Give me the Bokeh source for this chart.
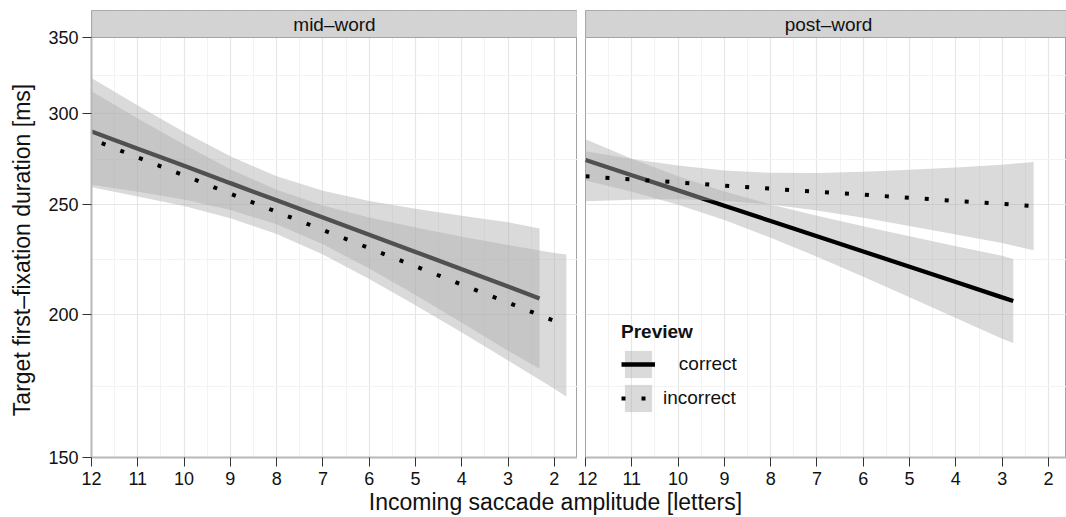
from bokeh.plotting import figure
from bokeh.layouts import column, row
from bokeh.models import Range1d, FixedTicker, NumeralTickFormatter, Label, Legend, LegendItem
from bokeh.embed import file_html
from bokeh.resources import INLINE

FONT = "Liberation Sans"

# ---------------- texts / ticks ----------------
panel_titles = ["mid–word", "post–word"]
legend_title = "Preview"
condition_labels = ["\u00a0\u00a0\u00a0correct", "incorrect"]
x_title = "Incoming saccade amplitude [letters]"
y_title = "Target first–fixation duration [ms]"
x_ticks = [2, 3, 4, 5, 6, 7, 8, 9, 10, 11, 12]
x_minor_ticks = [2.5, 3.5, 4.5, 5.5, 6.5, 7.5, 8.5, 9.5, 10.5, 11.5]
y_ticks = [150, 200, 250, 300, 350]
y_minor_ticks = [173.2, 223.6, 273.9, 324.0]

# ---------------- mid-word panel ----------------
mid_correct_x = [12, 11, 10, 9, 8, 7, 6, 5, 4, 3, 2.32]
mid_correct_fit = [289.6, 279.7, 270.2, 260.9, 252.0, 243.4, 235.1, 227.1, 219.3, 211.8, 206.7]
mid_correct_upper = [322.6, 305.2, 289.3, 275.4, 264.5, 256.9, 251.7, 247.8, 244.3, 241.1, 238.1]
mid_correct_lower = [260.0, 256.4, 252.4, 247.2, 240.1, 230.6, 219.6, 208.2, 196.9, 186.0, 179.4]

mid_incorrect_x = [12, 11, 10, 9, 8, 7, 6, 5, 4, 3, 2, 1.74]
mid_incorrect_fit = [285.1, 274.8, 265.0, 255.4, 246.2, 237.4, 228.8, 220.6, 212.6, 205.0, 197.6, 195.7]
mid_incorrect_upper = [314.1, 297.3, 282.0, 268.3, 257.4, 249.4, 243.4, 238.6, 234.2, 230.3, 226.6, 225.9]
mid_incorrect_lower = [258.8, 254.0, 249.1, 243.1, 235.5, 225.9, 215.0, 203.9, 193.0, 182.4, 172.3, 169.6]

# ---------------- post-word panel ----------------
post_correct_x = [12, 11, 10, 9, 8, 7, 6, 5, 4, 3, 2.76]
post_correct_fit = [273.4, 265.1, 257.1, 249.3, 241.7, 234.4, 227.3, 220.4, 213.7, 207.2, 205.7]
post_correct_upper = [285.0, 274.1, 264.6, 256.6, 249.9, 244.3, 239.2, 234.4, 229.7, 225.3, 223.9]
post_correct_lower = [262.3, 256.4, 249.8, 242.2, 233.7, 224.9, 216.0, 207.3, 198.8, 190.6, 189.0]

post_incorrect_x = [12, 11, 10, 9, 8, 7, 6, 5, 4, 3, 2.32]
post_incorrect_fit = [264.5, 262.9, 261.3, 259.6, 258.0, 256.4, 254.9, 253.3, 251.7, 250.2, 249.1]
post_incorrect_upper = [278.2, 273.9, 270.3, 267.6, 266.4, 266.3, 267.0, 268.1, 269.3, 270.8, 272.3]
post_incorrect_lower = [251.5, 252.3, 252.6, 251.8, 249.9, 246.9, 243.3, 239.3, 235.2, 231.2, 227.9]

BAND_COLOR = "#aeaeae"
BAND_ALPHA = 0.46
Y_MIN, Y_MAX = 150, 350
STRIP_RATIO = 1.056          # facet strip height, as a ratio on the log axis
X_LEFT = 12
X_FULL_RIGHT = 1.5           # right end of a full facet
Y_TITLE_PAD = "\u00a0" * 5    # trailing pad that centres the rotated title on the data panel


def make_panel(width, left, x_end, with_y, title):
    y_top = Y_MAX * STRIP_RATIO
    p = figure(width=width, height=490, x_range=Range1d(X_LEFT, x_end), y_range=Range1d(Y_MIN, y_top),
               y_axis_type="log", y_axis_location="left" if with_y else None,
               toolbar_location=None, output_backend="svg", title=None,
               min_border_left=left, min_border_right=0, min_border_top=10, min_border_bottom=33)
    p.background_fill_color = "white"
    p.border_fill_color = "white"
    p.outline_line_color = "#a3a3a3"
    p.outline_line_width = 1
    xt = FixedTicker(ticks=x_ticks, minor_ticks=x_minor_ticks)
    yt = FixedTicker(ticks=y_ticks, minor_ticks=y_minor_ticks)
    p.xaxis.ticker = xt
    p.xgrid.ticker = xt
    p.ygrid.ticker = yt
    for g in (p.xgrid, p.ygrid):
        g.grid_line_color = "#e6e6e6"
        g.grid_line_width = 1.2
        g.minor_grid_line_color = "#f3f3f3"
        g.minor_grid_line_width = 1
    axes = [p.xaxis]
    if with_y:
        p.yaxis.ticker = yt
        p.yaxis.bounds = (Y_MIN, Y_MAX)
        p.yaxis.formatter = NumeralTickFormatter(format="0")
        p.yaxis.axis_label = y_title + Y_TITLE_PAD
        p.yaxis.axis_label_text_font = FONT
        p.yaxis.axis_label_text_font_size = "23px"
        p.yaxis.axis_label_text_font_style = "normal"
        p.yaxis.axis_label_text_color = "#111111"
        p.yaxis.axis_label_standoff = 10
        p.yaxis.major_label_standoff = 4
        axes.append(p.yaxis)
    for ax in axes:
        ax.axis_line_color = "#b8b8b8"
        ax.axis_line_width = 2
        ax.major_tick_line_color = "#333333"
        ax.major_tick_out = 9
        ax.major_tick_in = 0
        ax.minor_tick_line_color = None
        ax.major_label_text_font = FONT
        ax.major_label_text_font_size = "18px"
        ax.major_label_text_color = "#111111"
    p.xaxis.major_label_standoff = 5
    # facet strip across the top of the panel
    p.quad(left=X_LEFT, right=x_end, bottom=Y_MAX, top=y_top,
           fill_color="#d3d3d3", line_color="#a3a3a3", line_width=1.2)
    p.add_layout(Label(x=(X_LEFT + X_FULL_RIGHT) / 2, y=(Y_MAX * y_top) ** 0.5, text=title,
                       text_align="center", text_baseline="middle",
                       text_font=FONT, text_font_size="19px", text_color="#111111"))
    return p


def draw(p, cx, cfit, cup, clo, ix, ifit, iup, ilo, dash_offset):
    bc = p.varea(x=cx, y1=clo, y2=cup, fill_color=BAND_COLOR, fill_alpha=BAND_ALPHA)
    lc = p.line(x=cx, y=cfit, line_color="black", line_width=4.3)
    bi = p.varea(x=ix, y1=ilo, y2=iup, fill_color=BAND_COLOR, fill_alpha=BAND_ALPHA)
    li = p.line(x=ix, y=ifit, line_color="black", line_width=4, line_dash="4 16",
                line_dash_offset=dash_offset)
    return bc, lc, bi, li


p1 = make_panel(577, 91, X_FULL_RIGHT, True, panel_titles[0])
p2 = make_panel(489, 8, 1.61, False, panel_titles[1])

draw(p1, mid_correct_x, mid_correct_fit, mid_correct_upper, mid_correct_lower,
     mid_incorrect_x, mid_incorrect_fit, mid_incorrect_upper, mid_incorrect_lower, 9)
bc2, lc2, bi2, li2 = draw(p2, post_correct_x, post_correct_fit, post_correct_upper, post_correct_lower,
                          post_incorrect_x, post_incorrect_fit, post_incorrect_upper, post_incorrect_lower, 0)

legend = Legend(items=[LegendItem(label=condition_labels[0], renderers=[bc2, lc2]),
                       LegendItem(label=condition_labels[1], renderers=[bi2, li2])],
                location=(36, 42), title=legend_title)
legend.glyph_width = 34
legend.glyph_height = 34
legend.label_height = 34
legend.padding = 0
legend.spacing = 0
legend.margin = 0
legend.border_line_color = None
legend.background_fill_alpha = 0
legend.label_standoff = 8
legend.label_text_font = FONT
legend.label_text_font_size = "19px"
legend.label_text_color = "#111111"
legend.title_text_font = FONT
legend.title_text_font_size = "19px"
legend.title_text_font_style = "bold"
legend.title_text_color = "#111111"
legend.title_standoff = 4
p2.add_layout(legend)

p3 = figure(width=1066, height=27, x_range=Range1d(0, 1066), y_range=Range1d(0, 27),
            x_axis_type=None, y_axis_type=None, toolbar_location=None, output_backend="svg",
            title=None, min_border_left=0, min_border_right=0, min_border_top=0, min_border_bottom=0)
p3.outline_line_color = None
p3.background_fill_color = "white"
p3.border_fill_color = "white"
p3.add_layout(Label(x=555, y=15.7, text=x_title, text_align="center", text_baseline="middle",
                    text_font=FONT, text_font_size="23px", text_color="#111111"))

layout = column(row(p1, p2), p3)
open("out.html", "w").write(file_html(layout, INLINE, "plot"))
